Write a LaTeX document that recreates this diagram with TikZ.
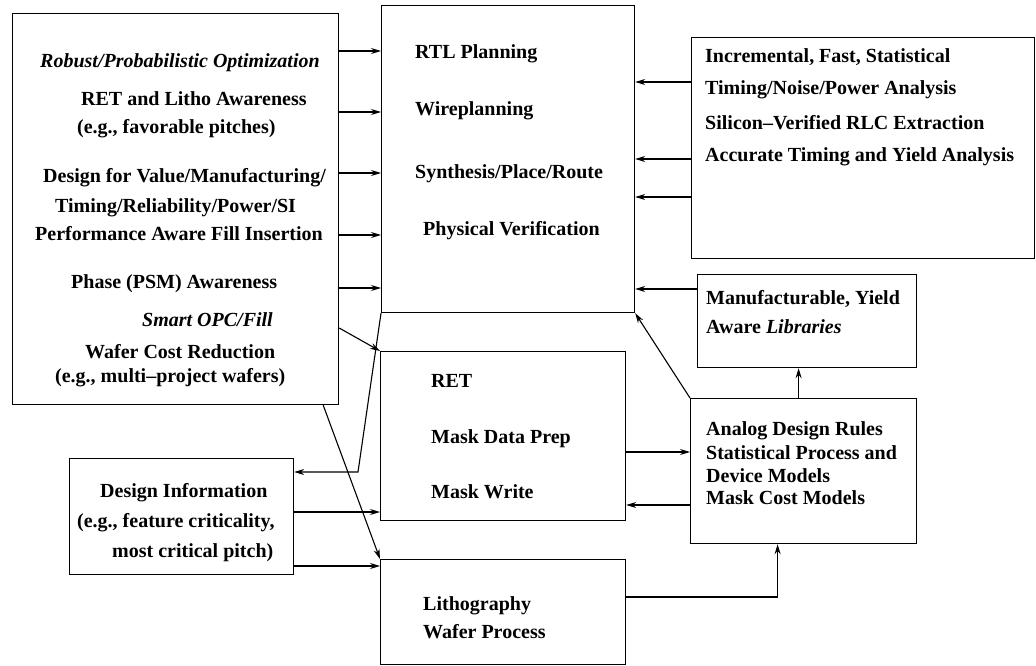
\documentclass[tikz,border=0pt]{standalone}
\usepackage{fontspec}
\setmainfont{Liberation Serif}
\usetikzlibrary{calc, positioning, arrows.meta}

\begin{document}
\begin{tikzpicture}[x=1pt,y=-1pt,
                    box node/.style={draw,line width=1.2pt,anchor=north west,inner sep=0pt},
                    text node/.style={anchor=west,inner sep=0pt,yshift=-3.5pt,font=\fontsize{20}{22}\selectfont\bfseries,text height=0.68em,text depth=0.2em},
                    arr/.style={line width=1.1pt,-{Stealth[length=10pt,width=6pt]}}]

  \useasboundingbox (0,0) rectangle (1036,666);

  % boxes
  \node[box node,minimum width=326pt,minimum height=391pt] (opt) at (12,13) {};
  \node[box node,minimum width=253pt,minimum height=307pt] (flow) at (381,5) {};
  \node[box node,minimum width=343pt,minimum height=221pt] (anal) at (691,37) {};
  \node[box node,minimum width=219pt,minimum height=93pt] (lib) at (697,274) {};
  \node[box node,minimum width=226pt,minimum height=145pt] (models) at (690,398) {};
  \node[box node,minimum width=245pt,minimum height=169pt] (mask) at (380,351) {};
  \node[box node,minimum width=245pt,minimum height=105pt] (litho) at (380,559) {};
  \node[box node,minimum width=224pt,minimum height=116pt] (info) at (69,458) {};

  % left box
  \node[text node] (robust) at (40,62) {\textit{Robust/Probabilistic Optimization}};
  \node[text node] (retlitho) at (81,100) {RET and Litho Awareness};
  \node[text node] (pitches) at (77,128) {(e.g., favorable pitches)};
  \node[text node] (dfv) at (43,177) {Design for Value/Manufacturing/};
  \node[text node] (timing) at (55,207) {Timing/Reliability/Power/SI};
  \node[text node] (fill) at (35,235) {Performance Aware Fill Insertion};
  \node[text node] (psm) at (71,283) {Phase (PSM) Awareness};
  \node[text node] (opc) at (142,321) {\textit{Smart OPC/Fill}};
  \node[text node] (cost) at (85,353) {Wafer Cost Reduction};
  \node[text node] (mpw) at (55,377) {(e.g., multi--project wafers)};

  % center box
  \node[text node] (rtl) at (415,53) {RTL Planning};
  \node[text node] (wire) at (415,110) {Wireplanning};
  \node[text node] (spr) at (415,173) {Synthesis/Place/Route};
  \node[text node] (pv) at (423,230) {Physical Verification};

  % right box
  \node[text node] (incr) at (705,57) {Incremental, Fast, Statistical};
  \node[text node] (tnp) at (705,89) {Timing/Noise/Power Analysis};
  \node[text node] (rlc) at (705,124) {Silicon--Verified RLC Extraction};
  \node[text node] (yield) at (705,156) {Accurate Timing and Yield Analysis};

  \node[text node] (manu) at (706,299) {Manufacturable, Yield};
  \node[text node] (aware) at (706,328) {Aware \textit{Libraries}};

  \node[text node] (rules) at (706,430) {Analog Design Rules};
  \node[text node] (stat) at (706,454) {Statistical Process and};
  \node[text node] (dev) at (706,477) {Device Models};
  \node[text node] (mcost) at (706,499) {Mask Cost Models};

  \node[text node] (ret) at (431,382) {RET};
  \node[text node] (mdp) at (431,438) {Mask Data Prep};
  \node[text node] (mw) at (431,493) {Mask Write};

  \node[text node] (lith) at (423,605) {Lithography};
  \node[text node] (wp) at (423,633) {Wafer Process};

  \node[text node] (dinfo) at (100,492) {Design Information};
  \node[text node] (crit) at (77,522) {(e.g., feature criticality,};
  \node[text node] (mcp) at (112,552) {most critical pitch)};

  % connectors
  \foreach \y in {51,112,173,235,288}
    \draw[arr] (opt.east |- 0,\y) -- (flow.west |- 0,\y);
  \foreach \y in {82,159,197}
    \draw[arr] (anal.west |- 0,\y) -- (flow.east |- 0,\y);
  \draw[arr] (lib.west |- 0,289) -- (flow.east |- 0,289);
  \draw[arr] (models.north west) -- (flow.south east);
  \draw[arr] ([xshift=-5pt]models.north) -- ([xshift=-5pt]models.north |- lib.south);
  \draw[arr] (mask.east |- 0,452) -- (models.west |- 0,452);
  \draw[arr] (models.west |- 0,505) -- (mask.east |- 0,505);
  \draw[arr] (litho.east |- 0,597) -| ([xshift=-26pt]models.south);
  \draw[arr] (info.east |- 0,512) -- (mask.west |- 0,512);
  \draw[arr] (info.east |- 0,566) -- (litho.west |- 0,566);
  \coordinate (kink) at (358,472);
  \draw[arr] (flow.south west) -- (kink) -- (info.east |- kink);
  \draw[arr] (opt.east |- 0,328) -- (mask.north west);
  \draw[arr] ([xshift=-16pt]opt.south east) -- (litho.north west);

\end{tikzpicture}
\end{document}
